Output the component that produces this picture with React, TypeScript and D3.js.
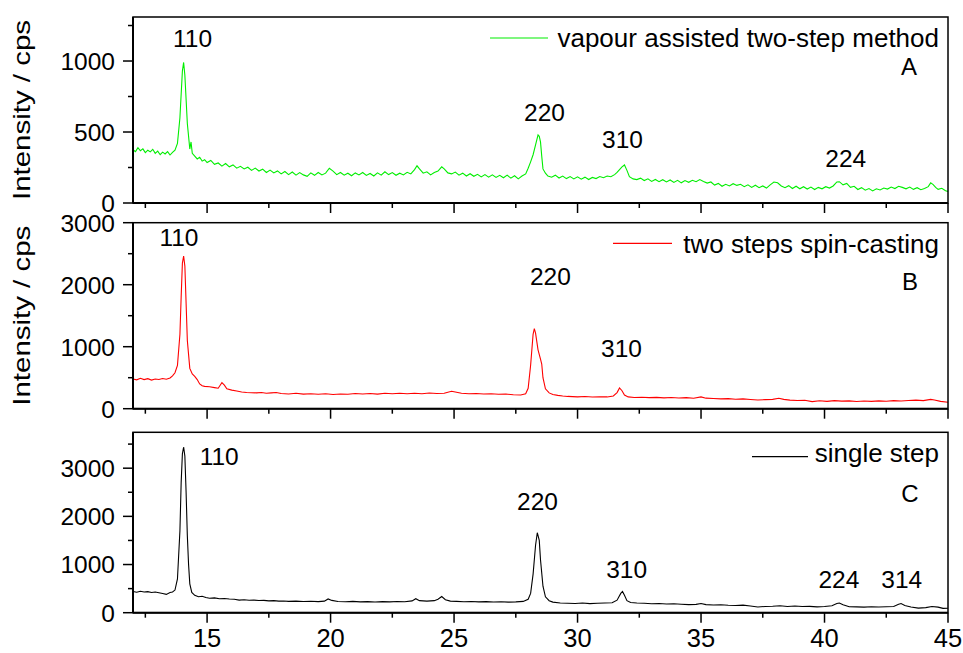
import React from "react";
import * as d3 from "d3";

// 2theta ticks shared by all three panels
const xMajorTicks = [15, 20, 25, 30, 35, 40, 45];
const xMinorTicks = [12.5, 17.5, 22.5, 27.5, 32.5, 37.5, 42.5];

// panel A - vapour assisted two-step method (2theta, cps)
const vapourAssisted: [number, number][] = [
  [12.0, 375], [12.1, 362], [12.2, 390], [12.3, 368], [12.4, 381], [12.5, 355], [12.6, 372], [12.7, 360],
  [12.8, 378], [12.9, 350], [13.0, 365], [13.1, 340], [13.2, 358], [13.3, 345], [13.4, 362], [13.5, 338],
  [13.6, 356], [13.7, 372], [13.8, 420], [13.9, 600], [14.0, 930], [14.05, 990], [14.1, 900], [14.2, 560],
  [14.3, 380], [14.35, 430], [14.4, 350], [14.5, 330], [14.6, 310], [14.7, 322], [14.8, 295], [14.9, 305],
  [15.0, 285], [15.15, 300], [15.3, 272], [15.45, 282], [15.6, 260], [15.75, 278], [15.9, 255], [16.05, 268],
  [16.2, 245], [16.35, 258], [16.5, 240], [16.65, 252], [16.8, 230], [16.95, 246], [17.1, 225], [17.25, 238],
  [17.4, 215], [17.55, 232], [17.7, 212], [17.85, 226], [18.0, 205], [18.15, 222], [18.3, 200], [18.45, 218],
  [18.6, 196], [18.75, 214], [18.9, 198], [19.05, 188], [19.2, 212], [19.35, 195], [19.5, 215], [19.65, 198],
  [19.8, 210], [19.95, 245], [20.1, 225], [20.25, 200], [20.4, 215], [20.55, 196], [20.7, 210], [20.85, 192],
  [21.0, 212], [21.15, 198], [21.3, 215], [21.45, 194], [21.6, 208], [21.75, 190], [21.9, 212], [22.05, 196],
  [22.2, 220], [22.35, 200], [22.5, 214], [22.65, 195], [22.8, 210], [22.95, 198], [23.1, 216], [23.25, 205],
  [23.4, 235], [23.5, 262], [23.6, 240], [23.75, 210], [23.9, 220], [24.05, 198], [24.2, 215], [24.35, 225],
  [24.5, 255], [24.6, 240], [24.75, 212], [24.9, 205], [25.05, 218], [25.2, 196], [25.35, 210], [25.5, 190],
  [25.65, 206], [25.8, 188], [25.95, 202], [26.1, 184], [26.25, 200], [26.4, 182], [26.55, 198], [26.7, 180],
  [26.85, 195], [27.0, 178], [27.15, 196], [27.3, 175], [27.45, 192], [27.6, 170], [27.75, 190], [27.9, 205],
  [28.0, 245], [28.1, 290], [28.2, 340], [28.3, 410], [28.4, 480], [28.45, 470], [28.5, 430], [28.55, 330],
  [28.6, 240], [28.7, 210], [28.8, 190], [28.95, 182], [29.1, 196], [29.25, 176], [29.4, 190], [29.55, 172],
  [29.7, 186], [29.85, 170], [30.0, 184], [30.15, 168], [30.3, 182], [30.45, 165], [30.6, 180], [30.75, 172],
  [30.9, 186], [31.05, 178], [31.2, 190], [31.35, 185], [31.5, 200], [31.6, 215], [31.7, 235], [31.8, 255],
  [31.9, 268], [32.0, 230], [32.1, 185], [32.25, 170], [32.4, 165], [32.55, 175], [32.7, 158], [32.85, 170],
  [33.0, 152], [33.15, 166], [33.3, 150], [33.45, 164], [33.6, 148], [33.75, 162], [33.9, 145], [34.05, 160],
  [34.2, 142], [34.35, 158], [34.5, 146], [34.65, 160], [34.8, 150], [34.95, 165], [35.1, 152], [35.25, 140],
  [35.4, 148], [35.55, 126], [35.7, 138], [35.85, 118], [36.0, 132], [36.15, 120], [36.3, 136], [36.45, 124],
  [36.6, 132], [36.75, 115], [36.9, 128], [37.05, 110], [37.2, 125], [37.35, 108], [37.5, 120], [37.65, 105],
  [37.8, 128], [37.95, 148], [38.1, 142], [38.25, 120], [38.4, 108], [38.55, 122], [38.7, 102], [38.85, 118],
  [39.0, 100], [39.15, 115], [39.3, 98], [39.45, 112], [39.6, 95], [39.75, 110], [39.9, 100], [40.05, 115],
  [40.2, 105], [40.35, 120], [40.5, 148], [40.6, 150], [40.75, 128], [40.9, 138], [41.05, 110], [41.2, 118],
  [41.35, 95], [41.5, 108], [41.65, 90], [41.8, 102], [41.95, 85], [42.1, 100], [42.25, 92], [42.4, 105],
  [42.55, 98], [42.7, 112], [42.85, 102], [43.0, 118], [43.15, 110], [43.3, 100], [43.45, 112], [43.6, 96],
  [43.75, 108], [43.9, 94], [44.05, 102], [44.2, 115], [44.3, 142], [44.4, 130], [44.5, 110], [44.6, 96],
  [44.75, 104], [44.9, 86], [45.0, 82],
];

// panel B - two steps spin-casting
const spinCasting: [number, number][] = [
  [12.0, 480], [12.15, 465], [12.3, 490], [12.45, 470], [12.6, 485], [12.75, 462], [12.9, 478], [13.05, 470],
  [13.2, 488], [13.35, 475], [13.5, 495], [13.6, 530], [13.7, 580], [13.8, 700], [13.9, 1200], [13.95, 1800],
  [14.0, 2350], [14.05, 2460], [14.1, 2300], [14.15, 1700], [14.2, 1100], [14.3, 650], [14.4, 560], [14.5, 520],
  [14.6, 470], [14.7, 400], [14.8, 370], [14.9, 360], [15.1, 355], [15.3, 340], [15.45, 330], [15.55, 390],
  [15.6, 420], [15.7, 380], [15.8, 320], [16.0, 300], [16.2, 285], [16.4, 270], [16.6, 262], [16.8, 258],
  [17.0, 255], [17.2, 262], [17.4, 250], [17.6, 256], [17.8, 262], [18.0, 245], [18.3, 238], [18.6, 248],
  [18.9, 235], [19.2, 242], [19.5, 232], [19.8, 240], [20.1, 230], [20.4, 238], [20.7, 232], [21.0, 245],
  [21.3, 238], [21.6, 244], [21.9, 235], [22.2, 248], [22.5, 240], [22.8, 250], [23.1, 242], [23.4, 248],
  [23.7, 240], [24.0, 252], [24.3, 244], [24.6, 250], [24.9, 282], [25.05, 270], [25.3, 248], [25.6, 242],
  [25.9, 245], [26.2, 236], [26.5, 240], [26.8, 232], [27.1, 236], [27.4, 225], [27.7, 220], [27.9, 240],
  [28.0, 330], [28.1, 700], [28.2, 1200], [28.25, 1290], [28.3, 1220], [28.4, 950], [28.5, 800], [28.55, 720],
  [28.6, 500], [28.7, 320], [28.85, 255], [29.0, 230], [29.2, 215], [29.4, 205], [29.6, 198], [29.8, 195],
  [30.0, 190], [30.3, 196], [30.6, 188], [30.9, 192], [31.2, 190], [31.45, 205], [31.6, 260], [31.7, 335],
  [31.8, 290], [31.9, 220], [32.05, 190], [32.3, 180], [32.6, 185], [32.9, 178], [33.2, 182], [33.5, 175],
  [33.8, 180], [34.1, 172], [34.4, 178], [34.7, 168], [35.0, 190], [35.2, 170], [35.5, 165], [35.8, 158],
  [36.1, 162], [36.4, 152], [36.7, 158], [37.0, 148], [37.3, 140], [37.6, 146], [37.9, 150], [38.15, 168],
  [38.35, 150], [38.6, 138], [38.9, 132], [39.2, 135], [39.5, 115], [39.8, 128], [40.1, 118], [40.4, 130],
  [40.7, 122], [41.0, 126], [41.3, 115], [41.6, 125], [41.9, 118], [42.2, 126], [42.5, 120], [42.8, 130],
  [43.1, 125], [43.4, 132], [43.7, 138], [44.0, 130], [44.3, 150], [44.45, 140], [44.7, 118], [45.0, 105],
];

// panel C - single step
const singleStep: [number, number][] = [
  [12.0, 440], [12.15, 425], [12.3, 445], [12.45, 430], [12.6, 438], [12.75, 420], [12.9, 430], [13.05, 415],
  [13.2, 398], [13.35, 380], [13.5, 420], [13.6, 430], [13.7, 470], [13.8, 700], [13.9, 1700], [13.95, 2700],
  [14.0, 3300], [14.05, 3440], [14.1, 3250], [14.15, 2500], [14.2, 1600], [14.25, 1000], [14.3, 600], [14.38, 420],
  [14.5, 360], [14.65, 330], [14.8, 340], [14.95, 315], [15.1, 300], [15.3, 308], [15.5, 290], [15.7, 295],
  [15.9, 285], [16.1, 278], [16.3, 262], [16.5, 270], [16.7, 258], [16.9, 262], [17.1, 252], [17.3, 256],
  [17.5, 245], [17.7, 250], [17.9, 240], [18.1, 244], [18.3, 236], [18.6, 240], [18.9, 232], [19.2, 238],
  [19.5, 230], [19.75, 240], [19.9, 285], [20.05, 255], [20.3, 232], [20.6, 228], [20.9, 235], [21.2, 225],
  [21.5, 230], [21.8, 222], [22.1, 230], [22.4, 225], [22.7, 232], [23.0, 228], [23.3, 245], [23.45, 290],
  [23.6, 250], [23.9, 240], [24.2, 250], [24.35, 280], [24.5, 335], [24.65, 270], [24.85, 240], [25.1, 235],
  [25.4, 228], [25.7, 232], [26.0, 225], [26.3, 230], [26.6, 222], [26.9, 228], [27.2, 220], [27.5, 225],
  [27.8, 235], [28.0, 280], [28.1, 400], [28.2, 800], [28.3, 1400], [28.37, 1660], [28.45, 1500], [28.5, 1100],
  [28.6, 550], [28.7, 330], [28.85, 250], [29.0, 220], [29.3, 200], [29.6, 195], [29.9, 190], [30.2, 200],
  [30.5, 188], [30.8, 195], [31.1, 200], [31.4, 205], [31.6, 260], [31.75, 400], [31.82, 440], [31.9, 360],
  [32.0, 250], [32.15, 210], [32.4, 200], [32.7, 195], [33.0, 185], [33.3, 190], [33.6, 180], [33.9, 185],
  [34.2, 175], [34.5, 168], [34.8, 172], [35.0, 190], [35.2, 168], [35.5, 160], [35.8, 165], [36.1, 155],
  [36.4, 150], [36.7, 158], [37.0, 140], [37.3, 118], [37.6, 130], [37.9, 135], [38.2, 145], [38.5, 130],
  [38.8, 140], [39.1, 128], [39.4, 132], [39.7, 120], [40.0, 130], [40.3, 145], [40.5, 190], [40.6, 200],
  [40.75, 165], [41.0, 125], [41.3, 120], [41.6, 115], [41.9, 122], [42.2, 118], [42.5, 125], [42.8, 130],
  [43.0, 175], [43.1, 190], [43.25, 150], [43.5, 120], [43.8, 95], [44.1, 105], [44.35, 130], [44.6, 115],
  [44.8, 90], [45.0, 92],
];

// reflection labels, placed at (2theta, intensity)
const peaksA = [
  { hkl: "110", at: [14.41, 1100] },
  { hkl: "220", at: [28.66, 577] },
  { hkl: "310", at: [31.82, 387] },
  { hkl: "224", at: [40.86, 256] },
];
const peaksB = [
  { hkl: "110", at: [13.86, 2629] },
  { hkl: "220", at: [28.9, 1995] },
  { hkl: "310", at: [31.78, 839] },
];
const peaksC = [
  { hkl: "110", at: [15.49, 3066] },
  { hkl: "220", at: [28.38, 2132] },
  { hkl: "310", at: [31.99, 720] },
  { hkl: "224", at: [40.58, 512] },
  { hkl: "314", at: [43.13, 512] },
];

const font = "Arial, 'Liberation Sans', sans-serif";

const panels = [
  {
    id: "A", data: vapourAssisted, color: "#00ee00", name: "vapour assisted two-step method",
    top: 17, bottom: 203, yMax: 1310, majors: [0, 500, 1000], minors: [250, 750, 1250],
    peaks: peaksA, letterAt: [43.42, 901], legendLine: [490, 548], legendDy: 21, legendTextDy: 30,
    title: true, xLabels: false,
  },
  {
    id: "B", data: spinCasting, color: "#ff0000", name: "two steps spin-casting",
    top: 222.7, bottom: 408.7, yMax: 3000, majors: [0, 1000, 2000, 3000], minors: [500, 1500, 2500],
    peaks: peaksB, letterAt: [43.46, 1915], legendLine: [613, 672], legendDy: 20.6, legendTextDy: 30,
    title: true, xLabels: false,
  },
  {
    id: "C", data: singleStep, color: "#000000", name: "single step",
    top: 432.3, bottom: 612.7, yMax: 3745, majors: [0, 1000, 2000, 3000], minors: [500, 1500, 2500, 3500],
    peaks: peaksC, letterAt: [43.46, 2304], legendLine: [752, 808], legendDy: 24.4, legendTextDy: 29.7,
    title: false, xLabels: true,
  },
];

const left = 133;
const right = 948;

export default function App() {
  const x = d3.scaleLinear().domain([12, 45]).range([left, right]);

  return (
    <svg width={963} height={653} style={{ position: "absolute", left: 0, top: 0, background: "#fff" }} fontFamily={font}>
      {panels.map((p) => {
        const y = d3.scaleLinear().domain([0, p.yMax]).range([p.bottom, p.top]);
        const line = d3
          .line<[number, number]>()
          .x((d) => x(d[0]))
          .y((d) => y(d[1]));
        const mid = (p.top + p.bottom) / 2;
        return (
          <g key={p.id}>
            <path d={line(p.data) ?? ""} fill="none" stroke={p.color} strokeWidth={1.1} />
            {/* frame */}
            <rect x={left} y={p.top} width={right - left} height={p.bottom - p.top} fill="none" stroke="#000" strokeWidth={1.5} />
            <line x1={left} x2={left} y1={p.top} y2={p.bottom} stroke="#000" strokeWidth={2} />
            <line x1={left} x2={right} y1={p.bottom} y2={p.bottom} stroke="#000" strokeWidth={2} />
            {/* y ticks */}
            {p.majors.map((t) => (
              <g key={"ym" + t}>
                <line x1={left - 10} x2={left} y1={y(t)} y2={y(t)} stroke="#000" strokeWidth={1.5} />
                <text x={115} y={y(t)} dy="0.36em" textAnchor="end" fontSize={24.5}>
                  {t}
                </text>
              </g>
            ))}
            {p.minors.map((t) => (
              <line key={"yn" + t} x1={left - 5} x2={left} y1={y(t)} y2={y(t)} stroke="#000" strokeWidth={1.5} />
            ))}
            {/* x ticks */}
            {xMajorTicks.map((t) => (
              <line key={"xm" + t} x1={x(t)} x2={x(t)} y1={p.bottom} y2={p.bottom + 10} stroke="#000" strokeWidth={1.5} />
            ))}
            {xMinorTicks.map((t) => (
              <line key={"xn" + t} x1={x(t)} x2={x(t)} y1={p.bottom} y2={p.bottom + 5} stroke="#000" strokeWidth={1.5} />
            ))}
            {p.xLabels &&
              xMajorTicks.map((t) => (
                <text key={"xl" + t} x={x(t)} y={647} textAnchor="middle" fontSize={25.5}>
                  {t}
                </text>
              ))}
            {p.title && (
              <text
                transform={`translate(30,${mid}) rotate(-90)`}
                textAnchor="middle"
                fontSize={24}
                textLength={180}
                lengthAdjust="spacingAndGlyphs"
              >
                Intensity / cps
              </text>
            )}
            {/* reflection labels */}
            {p.peaks.map((pk) => (
              <text key={pk.hkl} x={x(pk.at[0])} y={y(pk.at[1])} textAnchor="middle" fontSize={24.5}>
                {pk.hkl}
              </text>
            ))}
            <text x={x(p.letterAt[0])} y={y(p.letterAt[1])} textAnchor="middle" fontSize={24}>
              {p.id}
            </text>
            {/* legend */}
            <line x1={p.legendLine[0]} x2={p.legendLine[1]} y1={p.top + p.legendDy} y2={p.top + p.legendDy} stroke={p.color} strokeWidth={1.2} />
            <text x={939} y={p.top + p.legendTextDy} textAnchor="end" fontSize={26}>
              {p.name}
            </text>
          </g>
        );
      })}
    </svg>
  );
}
